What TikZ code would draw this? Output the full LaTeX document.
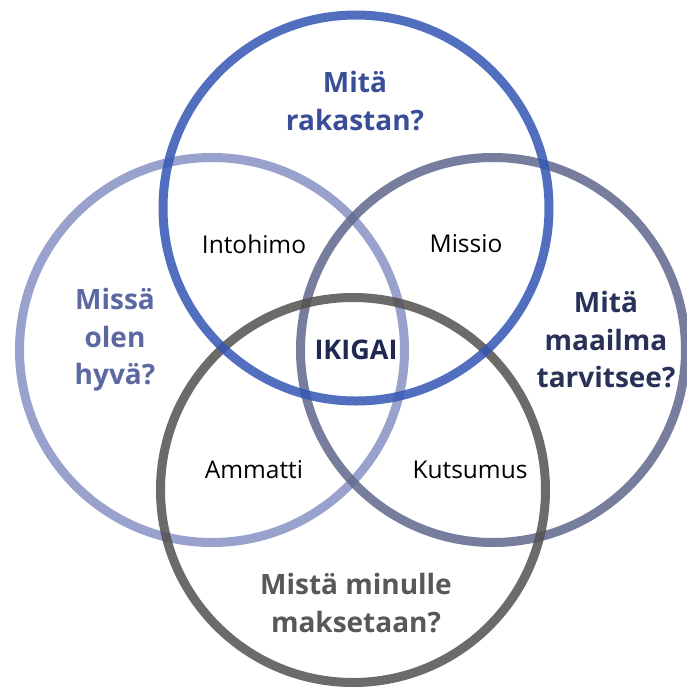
\documentclass[tikz,border=0pt]{standalone}
\usepackage{fontspec}
\setmainfont{Open Sans}
\begin{document}
\begin{tikzpicture}[x=1pt,y=-1pt,
  ring/.style={line width=9pt, draw opacity=0.85},
  question/.style={font=\fontsize{28}{37.5}\selectfont\bfseries, align=center},
  region/.style={font=\fontsize{24.5}{28}\selectfont, text=black}]
\definecolor{cTop}{RGB}{52,86,180}
\definecolor{cLeft}{RGB}{136,146,196}
\definecolor{cRight}{RGB}{96,104,140}
\definecolor{cBottom}{RGB}{84,80,80}
\definecolor{tTop}{RGB}{58,78,152}
\definecolor{tLeft}{RGB}{92,104,162}
\definecolor{tRight}{RGB}{40,50,88}
\definecolor{tBottom}{RGB}{88,88,92}
\definecolor{tCore}{RGB}{30,40,82}
\useasboundingbox (0,0) rectangle (687,689);
\fill[white] (0,0) rectangle (687,689);
% the four rings
\draw[ring, cLeft]   (212,350) circle (192.5);
\draw[ring, cRight]  (493,350) circle (192.5);
\draw[ring, cBottom] (353,490) circle (192.5);
\draw[ring, cTop]    (356,208) circle (193);
% questions
\node[question, text=tTop]    (love)  at (355,101) {Mitä\\rakastan?};
\node[question, text=tLeft]   (good)  at (115,340) {Missä\\olen\\hyvä?};
\node[question, text=tRight]  (need)  at (606,340) {Mitä\\maailma\\tarvitsee?};
\node[question, text=tBottom] (paid)  at (356,603) {Mistä minulle\\maksetaan?};
% overlaps
\node[region] (passion)    at (254,244) {Intohimo};
\node[region] (mission)    at (466,244) {Missio};
\node[region] (profession) at (254,470) {Ammatti};
\node[region] (vocation)   at (470,470) {Kutsumus};
\node[font=\fontsize{27}{30}\selectfont\bfseries, text=tCore] (ikigai) at (356,350) {IKIGAI};
\end{tikzpicture}
\end{document}
